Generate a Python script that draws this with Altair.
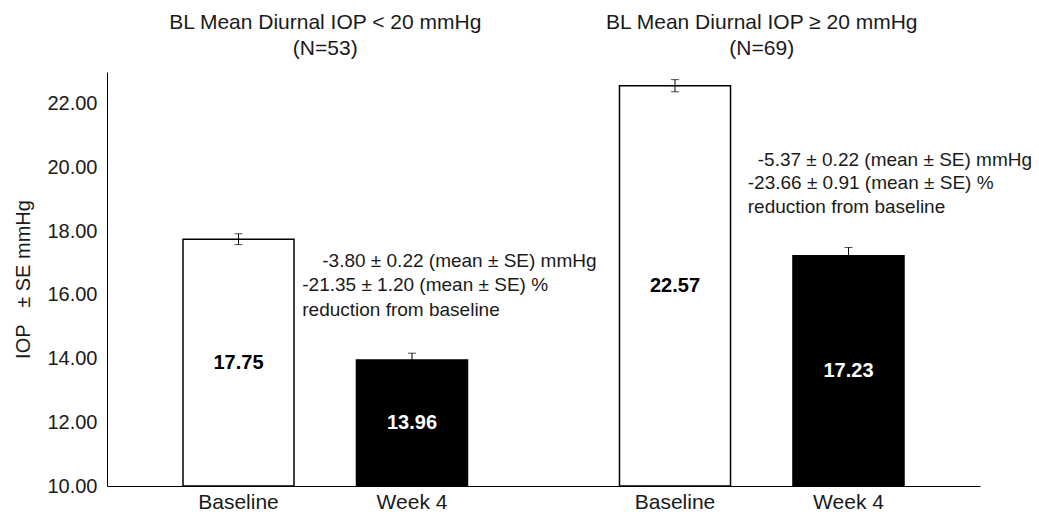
import altair as alt
import pandas as pd

groups = ["BL Mean Diurnal IOP < 20 mmHg", "BL Mean Diurnal IOP \u2265 20 mmHg"]
group_n = ["(N=53)", "(N=69)"]
timepoints = ["Baseline", "Week 4"]
means = [17.75, 13.96, 22.57, 17.23]
ses = [0.17, 0.21, 0.19, 0.26]
value_labels = ["17.75", "13.96", "22.57", "17.23"]
y_ticks = [10, 12, 14, 16, 18, 20, 22]
annot_g1 = ["-3.80 \u00b1 0.22 (mean \u00b1 SE) mmHg",
            "-21.35 \u00b1 1.20 (mean \u00b1 SE) %",
            "reduction from baseline"]
annot_g2 = ["-5.37 \u00b1 0.22 (mean \u00b1 SE) mmHg",
            "-23.66 \u00b1 0.91 (mean \u00b1 SE) %",
            "reduction from baseline"]

FONT = "Liberation Sans"
TXT = "#1a1a1a"

df = pd.DataFrame({
    "group": [g for g in groups for _ in timepoints],
    "time": timepoints * 2,
    "mean": means,
    "se": ses,
    "label": value_labels,
})

base = alt.Chart(df).transform_calculate(
    lo="datum.mean - datum.se",
    hi="datum.mean + datum.se",
    mid="(datum.mean + 10) / 2",
    floor="10",
)

x_enc = alt.X("group:N", sort=groups,
              scale=alt.Scale(paddingInner=0, paddingOuter=0),
              axis=alt.Axis(labels=False, ticks=False, title=None, grid=False,
                            domainColor="black", domainWidth=1))
xo_enc = alt.XOffset("time:N", sort=timepoints,
                     scale=alt.Scale(paddingInner=0.36, paddingOuter=0.438))
y_scale = alt.Scale(domain=[10, 23], nice=False, zero=False)

bars = base.mark_bar(stroke="black", strokeWidth=1.5).encode(
    x=x_enc, xOffset=xo_enc,
    y=alt.Y("mean:Q", scale=y_scale,
            axis=alt.Axis(values=y_ticks, format=".2f", grid=False, ticks=False,
                          labelFontSize=20, labelColor=TXT, labelFont=FONT,
                          labelPadding=10, domainColor="black", domainWidth=1,
                          title="IOP\u00a0\u00a0 \u00b1 SE mmHg", titleFont=FONT,
                          titleFontSize=20, titleFontWeight="normal",
                          titleColor=TXT, titlePadding=13)),
    y2="floor:Q",
    fill=alt.Fill("time:N", scale=alt.Scale(domain=timepoints, range=["white", "black"]),
                  legend=None),
)

err = base.mark_rule(color="black", strokeWidth=1).encode(
    x=x_enc, xOffset=xo_enc, y="lo:Q", y2="hi:Q")
cap_hi = base.mark_tick(color="black", thickness=1, size=8).encode(
    x=x_enc, xOffset=xo_enc, y="hi:Q")
cap_lo = base.mark_tick(color="black", thickness=1, size=8).encode(
    x=x_enc, xOffset=xo_enc, y="lo:Q")

vals = base.mark_text(font=FONT, fontSize=20, fontWeight="bold", baseline="middle").encode(
    x=x_enc, xOffset=xo_enc, y="mid:Q", text="label:N",
    color=alt.Color("time:N", scale=alt.Scale(domain=timepoints, range=["black", "white"]),
                    legend=None),
)

cat_labels = base.mark_text(font=FONT, fontSize=21, color=TXT, baseline="middle").encode(
    x=x_enc, xOffset=xo_enc, y=alt.value(431), text="time:N")

tdf = pd.DataFrame({"group": groups, "n": group_n})
titles1 = alt.Chart(tdf).mark_text(font=FONT, fontSize=21, color=TXT, baseline="middle").encode(
    x=x_enc, y=alt.value(-49), text="group:N")
titles2 = alt.Chart(tdf).mark_text(font=FONT, fontSize=21, color=TXT, baseline="middle").encode(
    x=x_enc, y=alt.value(-23), text="n:N")

layers = [bars, err, cap_hi, cap_lo, vals, cat_labels, titles1, titles2]

line_specs = [
    (0, annot_g1, [(-3, 189), (-23, 213), (-23, 238)]),
    (1, annot_g2, [(-4, 88), (-14, 111), (-14, 135)]),
]
for gi, lines, pos in line_specs:
    for txt, (dx, py) in zip(lines, pos):
        adf = pd.DataFrame({"group": [groups[gi]], "t": [txt]})
        layers.append(
            alt.Chart(adf).mark_text(font=FONT, fontSize=19, color=TXT, align="left",
                                     baseline="middle", dx=dx).encode(
                x=x_enc, y=alt.value(py), text="t:N")
        )

chart = alt.layer(*layers).properties(
    width=873, height=414,
    padding={"left": 99, "top": 64, "right": 51, "bottom": 30},
    autosize=alt.AutoSizeParams(type="none"),
).configure(background="white").configure_view(stroke=None, strokeWidth=0)

chart.save("out.html", embed_options={"renderer": "svg", "actions": False})
